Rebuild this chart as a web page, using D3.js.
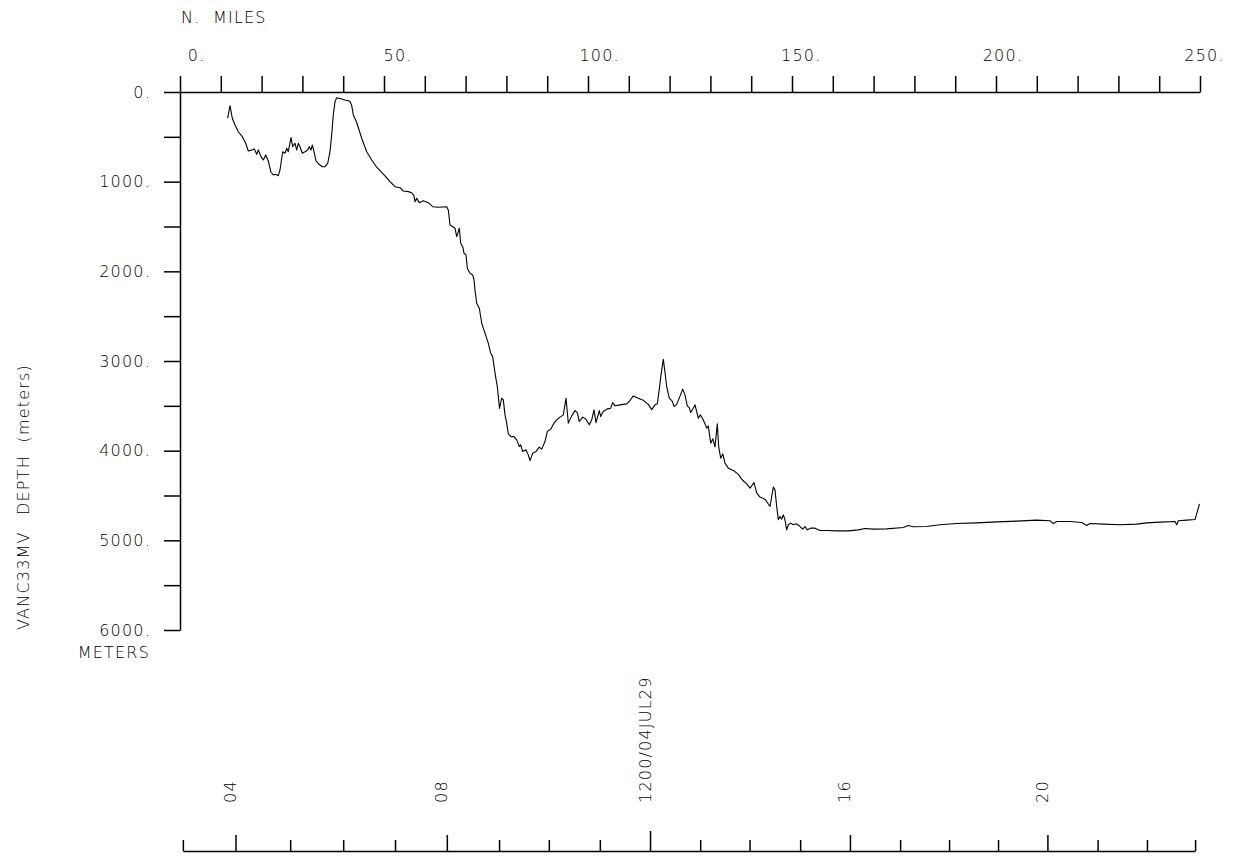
<!DOCTYPE html>
<html>
<head>
<meta charset="utf-8">
<script src="https://cdn.jsdelivr.net/npm/d3@7"></script>
<style>
    body { margin: 0; background: #fff; }
    svg text { font-family: "DejaVu Sans", sans-serif; font-size: 16px; font-weight: 200; fill: #000; letter-spacing: 1.2px; }
    .axis path, .axis line { stroke: #000; stroke-width: 1.5; }
</style>
</head>
<body>
<div id="chart"></div>
<script>
// Bathymetrie entlang der Fahrtstrecke (Distanz in sm, Tiefe in m)
const distanceNmi = [
    11.69, 12.25, 12.82, 13.48, 14.29, 15.27, 16.10, 16.74, 17.57, 18.21, 18.80, 19.19, 19.85, 20.42, 21.00, 21.64,
    22.30, 22.87, 23.46, 24.09, 24.51, 25.17, 25.74, 26.15, 26.54, 27.21, 27.62, 28.19, 28.60, 29.00, 29.41, 29.98,
    30.64, 31.30, 31.69, 32.11, 32.43, 32.84, 33.33, 34.07, 34.88, 35.54, 36.20, 36.76, 37.18, 37.57, 37.99, 38.41,
    39.22, 40.44, 41.25, 41.67, 42.08, 42.48, 43.31, 44.53, 45.76, 46.99, 48.21, 50.25, 51.47, 52.70, 53.92, 54.73,
    55.96, 56.79, 57.35, 57.60, 58.01, 58.65, 59.63, 60.86, 61.94, 63.31, 65.37, 65.76, 66.18, 66.84, 67.40, 67.82,
    68.21, 68.46, 68.80, 69.29, 69.61, 70.10, 70.42, 71.08, 71.74, 72.06, 72.30, 72.72, 73.36, 73.95, 74.75, 75.56,
    76.15, 76.64, 77.21, 77.77, 78.31, 78.85, 79.24, 79.66, 80.07, 80.47, 81.13, 81.86, 82.52, 83.16, 83.50, 83.99,
    84.80, 85.37, 85.78, 86.45, 87.25, 88.06, 88.65, 89.46, 90.03, 90.86, 91.67, 92.33, 93.14, 93.95, 94.61, 95.17,
    96.00, 96.81, 97.38, 97.87, 98.70, 99.51, 100.32, 100.91, 101.47, 101.96, 102.77, 103.11, 103.75, 104.58, 105.56, 106.05,
    106.62, 107.84, 109.49, 110.29, 111.10, 112.33, 113.55, 114.78, 115.61, 116.42, 116.99, 117.48, 117.89, 118.46, 118.87, 119.29,
    119.93, 120.59, 121.13, 121.74, 122.38, 123.21, 123.77, 124.34, 124.83, 125.17, 125.81, 126.23, 126.64, 127.03, 127.52, 128.11,
    128.68, 129.09, 129.49, 130.07, 130.59, 131.13, 131.69, 132.03, 132.52, 133.04, 133.58, 134.39, 135.61, 136.84, 137.67, 138.24,
    138.90, 139.71, 140.69, 141.35, 142.16, 143.38, 143.95, 144.61, 145.02, 145.42, 145.83, 146.25, 146.64, 147.06, 147.48, 147.87,
    148.28, 148.70, 149.09, 149.68, 150.32, 150.98, 151.79, 152.62, 153.19, 153.75, 154.58, 155.64, 156.86, 158.50, 160.95, 163.80,
    166.25, 167.89, 169.93, 173.21, 177.28, 178.50, 179.73, 183.01, 186.27, 190.37, 195.27, 200.17, 205.07, 209.98, 213.24, 214.04,
    214.88, 218.14, 221.00, 222.23, 223.04, 226.30, 230.39, 234.49, 236.94, 240.20, 243.87, 244.29, 244.68, 246.74, 248.77, 249.34,
    249.88
];
const depthM = [
    293, 153, 293, 368, 443, 498, 572, 658, 647, 635, 695, 647, 721, 758, 702, 769,
    895, 925, 917, 933, 870, 666, 683, 628, 666, 509, 610, 572, 647, 572, 610, 683,
    666, 647, 610, 647, 591, 666, 769, 806, 833, 833, 795, 666, 479, 256, 108, 64,
    72, 89, 97, 106, 150, 256, 340, 516, 666, 758, 839, 936, 1000, 1056, 1067, 1104,
    1111, 1123, 1159, 1223, 1185, 1234, 1212, 1234, 1279, 1285, 1279, 1315, 1483, 1502, 1519, 1613,
    1557, 1519, 1687, 1725, 1798, 1817, 1965, 2021, 2040, 2096, 2207, 2356, 2411, 2579, 2690, 2801,
    2913, 2951, 3136, 3285, 3528, 3415, 3434, 3601, 3693, 3813, 3843, 3843, 3880, 3954, 3935, 4010,
    3991, 4047, 4110, 4028, 4010, 3961, 3983, 3898, 3787, 3760, 3693, 3657, 3626, 3601, 3415, 3693,
    3612, 3553, 3575, 3675, 3626, 3649, 3712, 3657, 3545, 3687, 3553, 3620, 3564, 3537, 3526, 3464,
    3500, 3489, 3478, 3441, 3389, 3415, 3439, 3484, 3542, 3489, 3478, 3311, 3155, 2980, 3127, 3285,
    3415, 3445, 3508, 3484, 3411, 3314, 3378, 3500, 3523, 3575, 3526, 3489, 3564, 3638, 3601, 3645,
    3701, 3749, 3723, 3916, 3868, 3958, 3701, 3954, 4084, 4036, 4139, 4195, 4220, 4264, 4318, 4344,
    4370, 4418, 4356, 4474, 4518, 4541, 4578, 4623, 4512, 4407, 4437, 4623, 4771, 4734, 4763, 4716,
    4771, 4883, 4827, 4808, 4827, 4816, 4838, 4875, 4846, 4883, 4864, 4864, 4891, 4891, 4894, 4894,
    4883, 4868, 4875, 4872, 4857, 4835, 4849, 4846, 4827, 4813, 4805, 4794, 4786, 4775, 4782, 4813,
    4790, 4790, 4801, 4835, 4813, 4819, 4827, 4819, 4805, 4797, 4790, 4827, 4782, 4775, 4768, 4679,
    4593
];

// Zeitachse: Uhrzeit (Stunde) -> zurueckgelegte Distanz (sm)
const trackHours = [3, 4, 5, 6, 7, 8, 9, 10, 11, 12, 13, 14, 15, 16, 17, 18, 19, 20, 21, 22, 23];
const trackNmi = [0.7, 13.6, 27.0, 40.0, 52.7, 65.4, 78.2, 90.4, 102.9, 115.2, 127.5, 139.6, 152.0, 164.2, 176.5, 188.5, 200.5, 212.6, 224.9, 237.0, 248.8];
const hourLabelValues = [4, 8, 12, 16, 20];
const hourLabelTexts = ["04", "08", "1200/04JUL29", "16", "20"];

// Achsenbeschriftungen
const milesLabels = [0, 50, 100, 150, 200, 250];
const depthLabels = [0, 1000, 2000, 3000, 4000, 5000, 6000];

const width = 1235;
const height = 856;

const svg = d3.select("#chart")
    .append("svg")
    .attr("width", width)
    .attr("height", height);

const x = d3.scaleLinear().domain([0, 250]).range([180, 1200]);
const y = d3.scaleLinear().domain([0, 6000]).range([92, 630]);

// Obere Achse (Seemeilen)
const topAxis = svg.append("g")
    .attr("class", "axis")
    .attr("transform", `translate(0, ${y(0)})`)
    .call(d3.axisTop(x)
        .tickValues(d3.range(0, 251, 10))
        .tickSize(16)
        .tickSizeOuter(0)
        .tickPadding(15)
        .tickFormat(d => milesLabels.includes(d) ? d + "." : ""));

topAxis.selectAll(".tick text")
    .attr("dx", d => 16 - 12 * d / 250)
    .attr("dy", 0);

svg.append("text")
    .attr("x", 181)
    .attr("y", 23)
    .attr("xml:space", "preserve")
    .text("N.  MILES");

// Linke Achse (Tiefe)
const leftAxis = svg.append("g")
    .attr("class", "axis")
    .attr("transform", `translate(${x(0)}, 0)`)
    .call(d3.axisLeft(y)
        .tickValues(d3.range(0, 6001, 500))
        .tickSize(16)
        .tickSizeOuter(0)
        .tickPadding(13)
        .tickFormat(d => depthLabels.includes(d) ? d + "." : ""));

leftAxis.selectAll(".tick text")
    .filter(d => d === 6000)
    .attr("dy", "0.36em");

svg.append("text")
    .attr("x", 150)
    .attr("y", 658)
    .attr("text-anchor", "end")
    .text("METERS");

// Achsentitel links
svg.append("text")
    .attr("transform", "translate(29, 630) rotate(-90)")
    .text("VANC33MV");

svg.append("text")
    .attr("transform", "translate(29, 515) rotate(-90)")
    .attr("xml:space", "preserve")
    .text("DEPTH  (meters)");

// Untere Achse (Zeit)
const timeScale = d3.scaleLinear()
    .domain(trackHours)
    .range(trackNmi.map(d => x(d)));

const bottomY = 851;
const bottomAxis = svg.append("g")
    .attr("class", "axis")
    .attr("transform", `translate(0, ${bottomY})`)
    .call(d3.axisTop(timeScale)
        .tickValues(trackHours)
        .tickSize(11)
        .tickSizeOuter(0)
        .tickFormat(""));

bottomAxis.selectAll(".tick line")
    .attr("y2", d => d === 12 ? -20 : (hourLabelValues.includes(d) ? -16 : -11));

svg.selectAll(".hour-label")
    .data(hourLabelValues)
    .enter()
    .append("text")
    .attr("class", "hour-label")
    .attr("transform", d => `translate(${timeScale(d) + 0.5}, 803) rotate(-90)`)
    .text((d, i) => hourLabelTexts[i]);

// Tiefenprofil
const profile = distanceNmi.map((d, i) => [d, depthM[i]]);

svg.append("path")
    .datum(profile)
    .attr("fill", "none")
    .attr("stroke", "#000")
    .attr("stroke-width", 1.1)
    .attr("stroke-linejoin", "round")
    .attr("d", d3.line()
        .x(d => x(d[0]))
        .y(d => y(d[1])));
</script>
</body>
</html>
